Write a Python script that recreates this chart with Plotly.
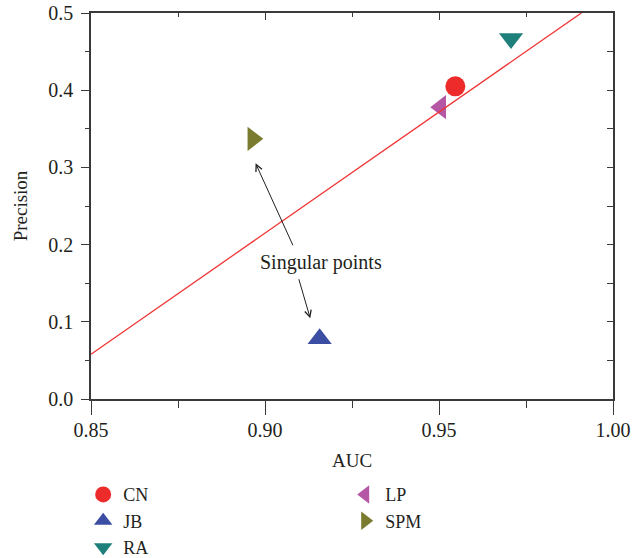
import plotly.graph_objects as go

# Link-prediction methods: AUC vs precision
methods = ["CN", "JB", "RA", "LP", "SPM"]
auc = [0.9547, 0.9157, 0.9707, 0.9505, 0.8965]
precision = [0.405, 0.078, 0.467, 0.378, 0.337]
symbols = ["circle", "triangle-up", "triangle-down", "triangle-left", "triangle-right"]
colors = ["#ee2b2b", "#3b4ea3", "#1e7f7b", "#b557a5", "#7a7b2f"]
legend_groups = ["legend", "legend", "legend", "legend2", "legend2"]

# Fitted trend line endpoints
fit_auc = [0.85, 0.9909]
fit_precision = [0.058, 0.5]

# Annotation: label and arrow tails/heads (data coordinates)
note_text = "Singular points"
note_pos = (0.9160, 0.1762)
arrows = [
    # (tail_x, tail_y, head_x, head_y)
    (0.9082, 0.1973, 0.8973, 0.3053),
    (0.9096, 0.1571, 0.9130, 0.1045),
]

x_range = [0.85, 1.0]
y_range = [0.0, 0.5]

FONT = "Liberation Serif"
INK = "#231f20"
AXIS = "#3a3a3a"

fig = go.Figure()

for name, x, y, sym, col, lg in zip(methods, auc, precision, symbols, colors, legend_groups):
    fig.add_trace(go.Scatter(
        x=[x], y=[y], mode="markers", name=name,
        marker=dict(symbol=sym, size=21 if sym != "circle" else 20, color=col,
                    line=dict(width=0)),
        legend=lg,
    ))

fig.add_trace(go.Scatter(
    x=fit_auc, y=fit_precision, mode="lines", showlegend=False,
    line=dict(color="#f03535", width=1.3),
))

fig.add_annotation(
    x=note_pos[0], y=note_pos[1], xref="x", yref="y", text=note_text,
    showarrow=False, font=dict(family=FONT, size=20, color=INK),
)
for tx, ty, hx, hy in arrows:
    fig.add_annotation(
        x=hx, y=hy, ax=tx, ay=ty, xref="x", yref="y", axref="x", ayref="y",
        text="", showarrow=True, arrowhead=5, arrowsize=1.3, arrowwidth=1,
        arrowcolor=INK, standoff=0, startstandoff=0,
    )

common_axis = dict(showgrid=False, zeroline=False, showline=True, automargin=False,
                   linecolor=AXIS, linewidth=1.5, tickcolor=AXIS, tickwidth=1.3)

fig.update_layout(
    width=642, height=558,
    margin=dict(l=91, r=29, t=13, b=159, autoexpand=False),
    paper_bgcolor="white", plot_bgcolor="white",
    font=dict(family=FONT, size=20, color=INK),
    xaxis=dict(range=x_range, dtick=0.05, tick0=0.85, tickformat=".2f",
               ticks="outside", ticklen=14, ticklabelstandoff=-2,
               minor=dict(dtick=0.025, tick0=0.85, ticks="outside", ticklen=7,
                          tickcolor=AXIS, tickwidth=1.3),
               title=dict(text="AUC", standoff=14, font=dict(size=19)),
               **common_axis),
    yaxis=dict(range=y_range, dtick=0.1, tick0=0, tickformat=".1f",
               ticks="outside", ticklen=8, ticklabelstandoff=4,
               minor=dict(dtick=0.05, tick0=0, ticks="outside", ticklen=4,
                          tickcolor=AXIS, tickwidth=1.3),
               title=dict(text="Precision", standoff=16, font=dict(size=19)),
               **common_axis),
    xaxis2=dict(range=x_range, overlaying="x", side="top", dtick=0.05, tick0=0.85,
                ticks="inside", ticklen=7, showticklabels=False,
                minor=dict(dtick=0.025, tick0=0.85, ticks="inside", ticklen=4,
                           tickcolor=AXIS, tickwidth=1.3),
                **common_axis),
    yaxis2=dict(range=y_range, overlaying="y", side="right", dtick=0.1, tick0=0,
                ticks="inside", ticklen=6, showticklabels=False,
                minor=dict(dtick=0.05, tick0=0, ticks="inside", ticklen=6,
                           tickcolor=AXIS, tickwidth=1.3),
                **common_axis),
    legend=dict(x=-0.015, y=-0.2, xanchor="left", yanchor="top",
                bgcolor="rgba(0,0,0,0)", font=dict(size=18), tracegroupgap=0),
    legend2=dict(x=0.487, y=-0.2, xanchor="left", yanchor="top",
                 bgcolor="rgba(0,0,0,0)", font=dict(size=18), tracegroupgap=0),
)

# Invisible trace so the mirrored frame axes are rendered
fig.add_trace(go.Scatter(x=[None], y=[None], xaxis="x2", yaxis="y2",
                         showlegend=False, hoverinfo="skip"))

fig.write_html("out.html")
